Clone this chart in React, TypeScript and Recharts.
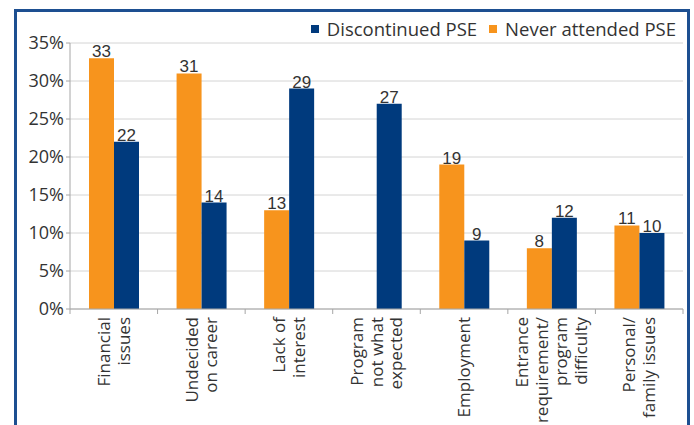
import React from 'react';
import { BarChart, Bar, XAxis, YAxis, CartesianGrid, Legend, LabelList } from 'recharts';

const categories = [
    'Financial\nissues',
    'Undecided\non career',
    'Lack of\ninterest',
    'Program\nnot what\nexpected',
    'Employment',
    'Entrance\nrequirement/\nprogram\ndifficulty',
    'Personal/\nfamily issues',
];
const neverAttended = [33, 31, 13, null, 19, 8, 11];
const discontinued = [22, 14, 29, 27, 9, 12, 10];
const yTicks = [0, 5, 10, 15, 20, 25, 30, 35];

const ORANGE = '#f7941d';
const NAVY = '#003a7d';
const TEXT = '#333333';
const FONT = '"Open Sans", sans-serif';

const W = 694;
const H = 425;
const LEGEND_H = 23;
// top margin is reduced by the legend height, recharts adds it back
const MARGIN = { top: 43 - LEGEND_H, right: 11, left: 15, bottom: 6 };
const Y_WIDTH = 55;
const BAND = (W - MARGIN.left - Y_WIDTH - MARGIN.right) / categories.length;

const data = categories.map((name, i) => ({
    name,
    never: neverAttended[i],
    disc: discontinued[i],
}));

const CategoryTick = (props: any) => {
    const { x, y, payload, index } = props;
    const lines = String(payload.value).split('\n');
    const lh = 19.5;
    const axisY = y - 8;
    return (
        <g>
            <line x1={x + BAND / 2} x2={x + BAND / 2} y1={axisY} y2={axisY + 5} stroke="#a6a6a6" />
            {index === 0 && <line x1={x - BAND / 2} x2={x - BAND / 2} y1={axisY} y2={axisY + 5} stroke="#a6a6a6" />}
            <g transform={`translate(${x},${y}) rotate(-90)`}>
                <text textAnchor="end" fontSize={17} fill={TEXT} fontFamily={FONT}>
                    {lines.map((l, i) => (
                        <tspan key={i} x={0} y={(i - (lines.length - 1) / 2) * lh + 6}>{l}</tspan>
                    ))}
                </text>
            </g>
        </g>
    );
};

const LegendBox = () => {
    const items = [
        { label: 'Discontinued PSE', color: NAVY },
        { label: 'Never attended PSE', color: ORANGE },
    ];
    return (
        <div style={{ display: 'flex', alignItems: 'center', height: LEGEND_H, fontFamily: FONT, fontSize: 18.5, color: TEXT }}>
            {items.map((it) => (
                <div key={it.label} style={{ display: 'flex', alignItems: 'center', marginLeft: 12 }}>
                    <span style={{ width: 8, height: 8, background: it.color, display: 'inline-block', marginRight: 8 }} />
                    <span>{it.label}</span>
                </div>
            ))}
        </div>
    );
};

export default function App() {
    return (
        <div style={{ position: 'absolute', left: 0, top: 0, width: W, height: H, background: '#fff', overflow: 'hidden' }}>
            <div style={{ position: 'absolute', left: 14, top: 9, width: 670, height: 440, border: '3px solid #1d4f91' }} />
            <div style={{ position: 'absolute', left: 0, top: 0 }}>
                <BarChart width={W} height={H} data={data} margin={MARGIN} barGap={0} barSize={25}>
                    <CartesianGrid vertical={false} stroke="#d4d4d4" />
                    <XAxis
                        dataKey="name"
                        interval={0}
                        height={110}
                        tickLine={false}
                        tickSize={6}
                        tick={<CategoryTick />}
                        axisLine={{ stroke: '#a6a6a6' }}
                    />
                    <YAxis
                        width={Y_WIDTH}
                        domain={[0, 35]}
                        ticks={yTicks}
                        interval={0}
                        tickFormatter={(v: number) => `${v}%`}
                        tick={{ fontSize: 18, fill: TEXT, fontFamily: FONT }}
                        tickSize={4}
                        tickLine={{ stroke: '#a6a6a6' }}
                        axisLine={{ stroke: '#a6a6a6' }}
                    />
                    <Legend
                        verticalAlign="top"
                        align="right"
                        height={LEGEND_H}
                        content={<LegendBox />}
                        wrapperStyle={{ top: 17, right: 18, left: 'auto', width: 'auto' }}
                    />
                    <Bar dataKey="never" fill={ORANGE} isAnimationActive={false}>
                        <LabelList dataKey="never" position="top" offset={1} fontSize={17} fill={TEXT} fontFamily='"Liberation Sans", Arial, sans-serif' />
                    </Bar>
                    <Bar dataKey="disc" fill={NAVY} isAnimationActive={false}>
                        <LabelList dataKey="disc" position="top" offset={1} fontSize={17} fill={TEXT} fontFamily='"Liberation Sans", Arial, sans-serif' />
                    </Bar>
                </BarChart>
            </div>
        </div>
    );
}
